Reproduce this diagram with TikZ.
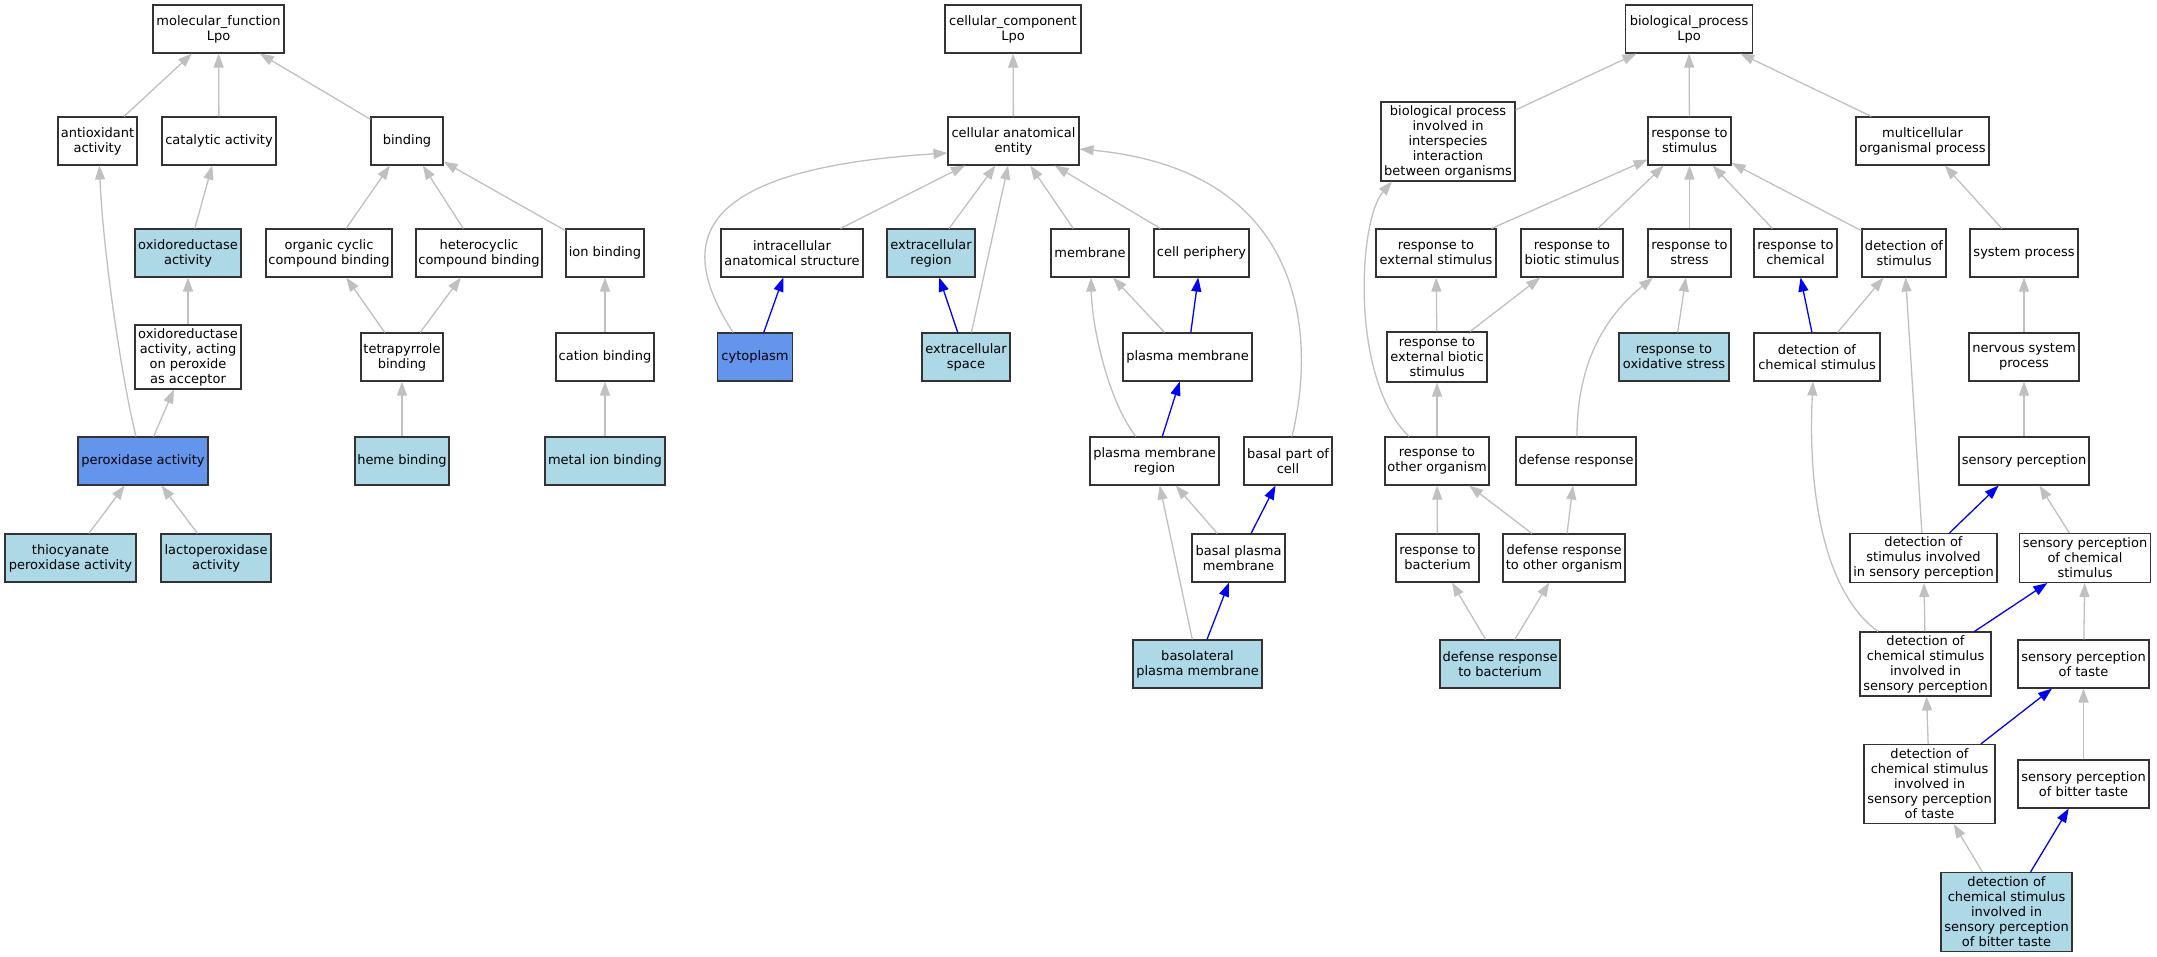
\documentclass[tikz,border=0pt]{standalone}
\usepackage{fontspec}
\setmainfont{DejaVu Sans}
\usetikzlibrary{arrows.meta}
\definecolor{lbfill}{HTML}{ADD8E6}
\definecolor{cbfill}{HTML}{6495ED}
\definecolor{edgegray}{HTML}{C0C0C0}
\definecolor{edgeblue}{HTML}{0000FF}
\begin{document}
\begin{tikzpicture}[x=1pt,y=-1pt,
  gobox/.style={draw=black!80, line width=1.1pt, fill=white, rectangle, inner sep=0pt, align=center, font=\fontsize{13}{15}\selectfont},
  lbbox/.style={gobox, fill=lbfill},
  cbbox/.style={gobox, fill=cbfill},
  wh/.style 2 args={minimum width=#1pt, minimum height=#2pt},
  gedge/.style={draw=edgegray, line width=1.3pt, -{Triangle[length=14pt,width=10pt]}},
  bedge/.style={draw=edgeblue, line width=1.3pt, -{Triangle[length=14pt,width=10pt]}},
]
\fill[white] (0,0) rectangle (2157,957);
\useasboundingbox (0,0) rectangle (2157,957);

% ---------------- molecular function ----------------
\node[gobox, wh={131}{48}] (mf) at (218.5,29) {molecular\_function\\Lpo};
\node[gobox, wh={79}{48}] (anti) at (97.5,141) {antioxidant\\activity};
\node[gobox, wh={114}{48}] (cat) at (219,141) {catalytic activity};
\node[gobox, wh={72}{48}] (bind) at (407,141) {binding};
\node[lbbox, wh={106}{48}] (oxr) at (188,253) {oxidoreductase\\activity};
\node[gobox, wh={126}{48}] (occ) at (329,253) {organic cyclic\\compound binding};
\node[gobox, wh={126}{48}] (hcb) at (479,253) {heterocyclic\\compound binding};
\node[gobox, wh={78}{48}] (ionb) at (605,253) {ion binding};
\node[gobox, wh={106}{64}] (oxp) at (188,357) {oxidoreductase\\activity, acting\\on peroxide\\as acceptor};
\node[gobox, wh={82}{48}] (tetra) at (402,357) {tetrapyrrole\\binding};
\node[gobox, wh={98}{48}] (cation) at (605,357) {cation binding};
\node[cbbox, wh={130}{48}] (perox) at (143,461) {peroxidase activity};
\node[lbbox, wh={94}{48}] (heme) at (402,461) {heme binding};
\node[lbbox, wh={120}{48}] (metal) at (605,461) {metal ion binding};
\node[lbbox, wh={131}{48}] (thio) at (70.5,558) {thiocyanate\\peroxidase activity};
\node[lbbox, wh={110}{48}] (lacto) at (216,558) {lactoperoxidase\\activity};

\draw[gedge] (anti) -- (mf);
\draw[gedge] (cat) -- (mf);
\draw[gedge] (bind) -- (mf);
\draw[gedge] (oxr) -- (cat);
\draw[gedge] (occ) -- (bind);
\draw[gedge] (hcb) -- (bind);
\draw[gedge] (ionb) -- (bind);
\draw[gedge] (oxp) -- (oxr);
\draw[gedge] (tetra) -- (occ);
\draw[gedge] (tetra) -- (hcb);
\draw[gedge] (cation) -- (ionb);
\draw[gedge] ([xshift=-7pt]perox.north) .. controls +(-15,-60) and +(3,80) .. ([xshift=2pt]anti.south);
\draw[gedge] (perox) -- (oxp);
\draw[gedge] (heme) -- (tetra);
\draw[gedge] (metal) -- (cation);
\draw[gedge] (thio) -- (perox);
\draw[gedge] (lacto) -- (perox);

% ---------------- cellular component ----------------
\node[gobox, wh={136}{48}] (cc) at (1013,29) {cellular\_component\\Lpo};
\node[gobox, wh={131}{48}] (cae) at (1013.5,141) {cellular anatomical\\entity};
\node[gobox, wh={142}{48}] (intra) at (792,253) {intracellular\\anatomical structure};
\node[lbbox, wh={88}{48}] (exreg) at (931,253) {extracellular\\region};
\node[gobox, wh={78}{48}] (mem) at (1090,253) {membrane};
\node[gobox, wh={95}{48}] (cellp) at (1201.5,253) {cell periphery};
\node[cbbox, wh={75}{48}] (cyto) at (755,357) {cytoplasm};
\node[lbbox, wh={88}{48}] (exsp) at (966,357) {extracellular\\space};
\node[gobox, wh={129}{48}] (pm) at (1187.5,357) {plasma membrane};
\node[gobox, wh={129}{48}] (pmr) at (1154.5,461) {plasma membrane\\region};
\node[gobox, wh={88}{48}] (basal) at (1288,461) {basal part of\\cell};
\node[gobox, wh={93}{48}] (bpm) at (1238.5,558) {basal plasma\\membrane};
\node[lbbox, wh={129}{48}] (basol) at (1197.5,664) {basolateral\\plasma membrane};

\draw[gedge] (cae) -- (cc);
\draw[gedge] (intra) -- (cae);
\draw[gedge] (exreg) -- (cae);
\draw[gedge] (mem) -- (cae);
\draw[gedge] (cellp) -- (cae);
\draw[gedge] ([xshift=-22pt]cyto.north) .. controls +(-53,-83) and +(-268,17) .. ([yshift=-12pt]cae.west);
\draw[bedge] (cyto) -- (intra);
\draw[bedge] (exsp) -- (exreg);
\draw[gedge] (exsp) -- (cae);
\draw[gedge] (pm) -- (mem);
\draw[bedge] (pm) -- (cellp);
\draw[gedge] ([xshift=4pt]basal.north) .. controls +(26,-107) and +(222,21) .. ([yshift=-8pt]cae.east);
\draw[bedge] (pmr) -- (pm);
\draw[gedge] ([xshift=-18.5pt]pmr.north) .. controls +(-26,-32) and +(1,53) .. ([xshift=1pt]mem.south);
\draw[gedge] (bpm) -- (pmr);
\draw[bedge] (bpm) -- (basal);
\draw[bedge] (basol) -- (bpm);
\draw[gedge] (basol) -- (pmr);

% ---------------- biological process ----------------
\node[gobox, wh={127}{48}] (bp) at (1689,29) {biological\_process\\Lpo};
\node[gobox, wh={134}{79}] (bpi) at (1448,141.5) {biological process\\involved in\\interspecies\\interaction\\between organisms};
\node[gobox, wh={83}{48}] (rs) at (1689.5,141) {response to\\stimulus};
\node[gobox, wh={133}{48}] (mop) at (1922.5,141) {multicellular\\organismal process};
\node[gobox, wh={120}{48}] (res) at (1436,253) {response to\\external stimulus};
\node[gobox, wh={102}{48}] (rbs) at (1572,253) {response to\\biotic stimulus};
\node[gobox, wh={83}{48}] (rst) at (1689.5,253) {response to\\stress};
\node[gobox, wh={83}{48}] (rch) at (1795.5,253) {response to\\chemical};
\node[gobox, wh={84}{48}] (dos) at (1904,253) {detection of\\stimulus};
\node[gobox, wh={108}{48}] (sysp) at (2024,253) {system process};
\node[gobox, wh={100}{50}] (rebs) at (1437,357) {response to\\external biotic\\stimulus};
\node[lbbox, wh={110}{48}] (ros) at (1674,357) {response to\\oxidative stress};
\node[gobox, wh={126}{48}] (dcs) at (1817,357) {detection of\\chemical stimulus};
\node[gobox, wh={110}{48}] (nsp) at (2024,357) {nervous system\\process};
\node[gobox, wh={104}{48}] (rtoo) at (1437,461) {response to\\other organism};
\node[gobox, wh={120}{48}] (dr) at (1576,461) {defense response};
\node[gobox, wh={130}{48}] (sp) at (2024,461) {sensory perception};
\node[gobox, wh={83}{48}] (rbact) at (1437.5,558) {response to\\bacterium};
\node[gobox, wh={122}{48}] (drtoo) at (1564,558) {defense response\\to other organism};
\node[gobox, wh={147}{49}] (dsisp) at (1923.5,558) {detection of\\stimulus involved\\in sensory perception};
\node[gobox, wh={131}{49}] (spcs) at (2085,558) {sensory perception\\of chemical\\stimulus};
\node[lbbox, wh={120}{48}] (drb) at (1500,664) {defense response\\to bacterium};
\node[gobox, wh={131}{64}] (dcsisp) at (1925.5,664) {detection of\\chemical stimulus\\involved in\\sensory perception};
\node[gobox, wh={131}{48}] (spt) at (2083.5,664) {sensory perception\\of taste};
\node[gobox, wh={131}{79}] (dcst) at (1929.5,784) {detection of\\chemical stimulus\\involved in\\sensory perception\\of taste};
\node[gobox, wh={131}{48}] (spbt) at (2083.5,784) {sensory perception\\of bitter taste};
\node[lbbox, wh={131}{79}] (dcsbt) at (2006.5,912) {detection of\\chemical stimulus\\involved in\\sensory perception\\of bitter taste};

\draw[gedge] (bpi) -- (bp);
\draw[gedge] (rs) -- (bp);
\draw[gedge] (mop) -- (bp);
\draw[gedge] (res) -- (rs);
\draw[gedge] (rbs) -- (rs);
\draw[gedge] (rst) -- (rs);
\draw[gedge] (rch) -- (rs);
\draw[gedge] (dos) -- (rs);
\draw[gedge] (sysp) -- (mop);
\draw[gedge] (rebs) -- (res);
\draw[gedge] (rebs) -- (rbs);
\draw[gedge] (ros) -- (rst);
\draw[bedge] (dcs) -- (rch);
\draw[gedge] (dcs) -- (dos);
\draw[gedge] (nsp) -- (sysp);
\draw[gedge] (rtoo) -- (rebs);
\draw[gedge] ([xshift=-28pt]rtoo.north) .. controls +(-59,-57) and +(-34,39) .. ([xshift=-56pt]bpi.south);
\draw[gedge] ([xshift=1pt]dr.north) .. controls +(0,-67) and +(-53,43) .. ([xshift=-36.5pt]rst.south);
\draw[gedge] (sp) -- (nsp);
\draw[gedge] (rbact) -- (rtoo);
\draw[gedge] (drtoo) -- (rtoo);
\draw[gedge] (drtoo) -- (dr);
\draw[bedge] (dsisp) -- (sp);
\draw[gedge] (dsisp) -- (dos);
\draw[gedge] (spcs) -- (sp);
\draw[gedge] (drb) -- (rbact);
\draw[gedge] (drb) -- (drtoo);
\draw[gedge] ([xshift=-47.5pt]dcsisp.north) .. controls +(-58,-42) and +(-5,99) .. ([xshift=-4pt]dcs.south);
\draw[gedge] (dcsisp) -- (dsisp);
\draw[bedge] (dcsisp) -- (spcs);
\draw[gedge] (spt) -- (spcs);
\draw[gedge] (dcst) -- (dcsisp);
\draw[bedge] (dcst) -- (spt);
\draw[gedge] (spbt) -- (spt);
\draw[gedge] (dcsbt) -- (dcst);
\draw[bedge] (dcsbt) -- (spbt);
\end{tikzpicture}
\end{document}
